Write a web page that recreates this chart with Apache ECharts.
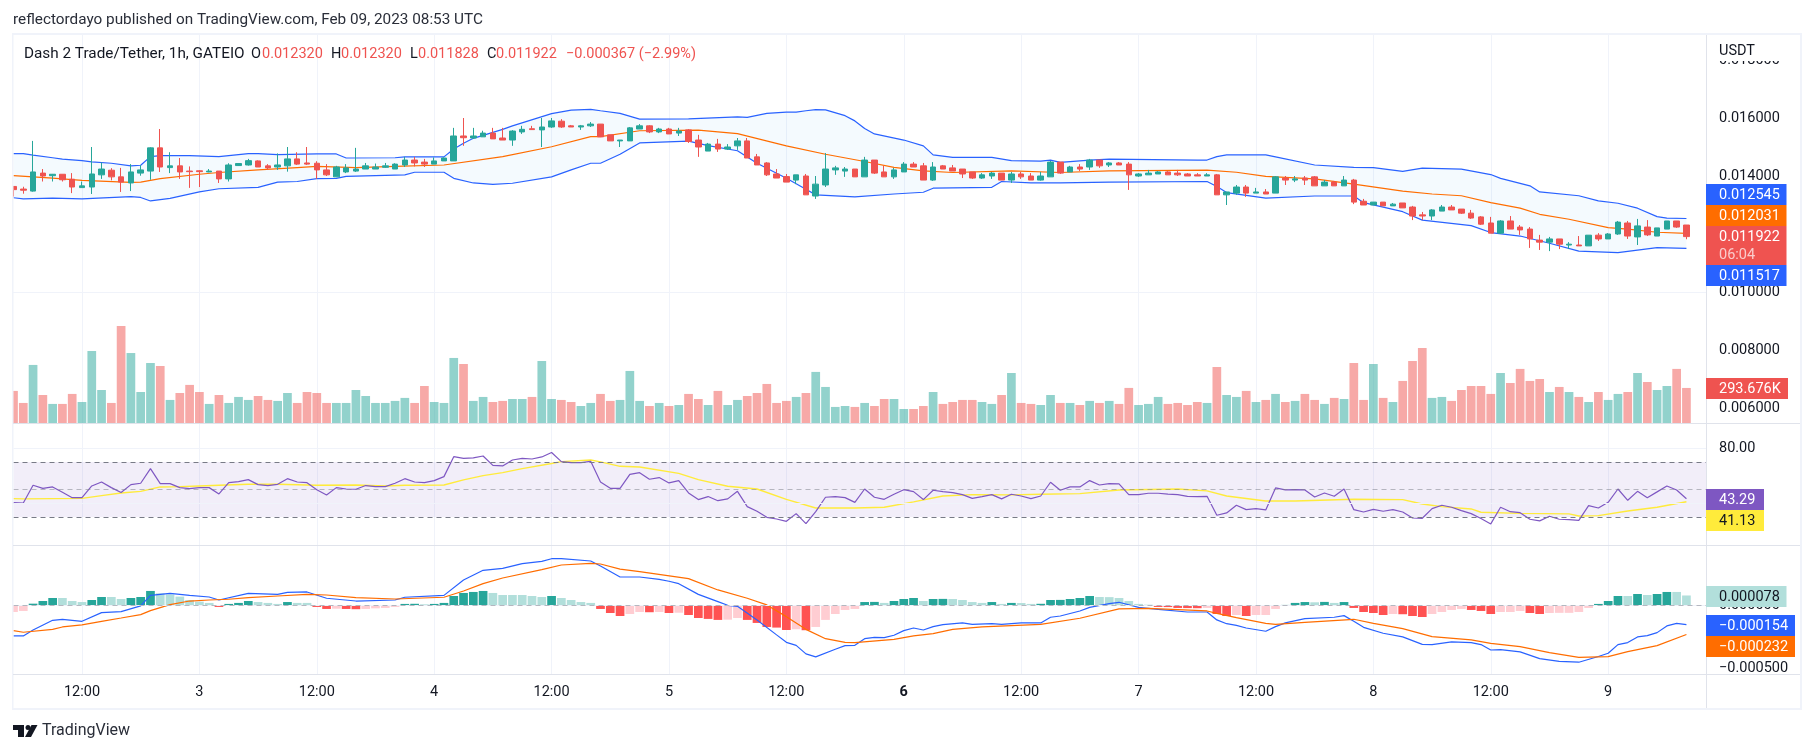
<!DOCTYPE html>
<html>
<head>
<meta charset="utf-8">
<title>Dash 2 Trade/Tether</title>
<script src="https://cdn.jsdelivr.net/npm/echarts@6/dist/echarts.min.js"></script>
<style>
  html, body { margin: 0; padding: 0; background: #fff; }
  #main { width: 1814px; height: 753px; }
</style>
</head>
<body>
<div id="main"></div>
<script>
// hourly bars, index 0 = Feb 2 05:00, last = Feb 9 08:00
const tickIndex = [7, 19, 31, 43, 55, 67, 79, 91, 103, 115, 127, 139, 151, 163];
const tickLabels = ["12:00", "3", "12:00", "4", "12:00", "5", "12:00", "6", "12:00", "7", "12:00", "8", "12:00", "9"];

const opens = [0.01365,0.01356,0.01349,0.01411,0.01402,0.01407,0.0139,0.01361,0.01363,0.01405,
  0.01421,0.01398,0.01377,0.01411,0.01418,0.01498,0.0143,0.01436,0.01418,0.01419,
  0.01415,0.01418,0.01391,0.01437,0.01439,0.01453,0.01436,0.01432,0.01436,0.0146,
  0.01446,0.01445,0.01422,0.01398,0.01415,0.01418,0.01425,0.01425,0.01431,0.01425,
  0.01439,0.01456,0.01449,0.01442,0.01453,0.01453,0.01539,0.01532,0.01536,0.01549,
  0.01532,0.01525,0.01553,0.01564,0.0156,0.0157,0.0159,0.01574,0.0157,0.01574,
  0.0158,0.01543,0.01522,0.01522,0.01563,0.01574,0.01553,0.01563,0.01549,0.0156,
  0.01525,0.01487,0.01511,0.01494,0.01505,0.01522,0.01467,0.01446,0.01408,0.01399,
  0.01387,0.01401,0.01332,0.0137,0.01422,0.01418,0.01425,0.01398,0.01456,0.01415,
  0.01398,0.01415,0.01442,0.01436,0.01387,0.01436,0.01429,0.01425,0.01415,0.01394,
  0.01401,0.01411,0.01387,0.01408,0.01401,0.01387,0.01398,0.01449,0.01415,0.01432,
  0.01432,0.01456,0.01439,0.01446,0.01442,0.01401,0.01405,0.01408,0.01415,0.01411,
  0.01408,0.01405,0.01401,0.01405,0.01336,0.01342,0.01363,0.01342,0.01346,0.01342,
  0.01394,0.01387,0.01394,0.01398,0.01367,0.0138,0.01367,0.01387,0.01314,0.01301,
  0.01311,0.01298,0.01308,0.01294,0.01267,0.01263,0.0128,0.01294,0.01287,0.01273,
  0.0126,0.01239,0.01204,0.01246,0.01225,0.01218,0.0118,0.01173,0.01184,0.01163,
  0.01163,0.0116,0.01197,0.01184,0.01201,0.01239,0.01191,0.01225,0.01194,0.01218,
  0.01246,0.01232];
const highs = [0.01365,0.01364,0.01522,0.01425,0.01408,0.01407,0.01411,0.01382,0.01501,0.01448,
  0.01428,0.01429,0.01442,0.01438,0.015,0.01563,0.01483,0.01463,0.01434,0.01421,
  0.01425,0.01418,0.01445,0.01445,0.0146,0.01455,0.01442,0.01479,0.01501,0.01483,
  0.01501,0.01452,0.01442,0.01436,0.01442,0.01498,0.01446,0.01444,0.01446,0.01445,
  0.01467,0.01467,0.0146,0.01465,0.01465,0.01567,0.01601,0.01567,0.01557,0.01567,
  0.01567,0.01559,0.01574,0.01574,0.01601,0.01601,0.01597,0.01577,0.01577,0.01587,
  0.0158,0.01543,0.01525,0.0157,0.0158,0.01576,0.01567,0.01567,0.01567,0.01563,
  0.01543,0.01515,0.01529,0.01511,0.01532,0.01532,0.01477,0.01449,0.01425,0.01408,
  0.01405,0.01408,0.01401,0.0148,0.01436,0.01432,0.01425,0.01467,0.01456,0.01436,
  0.01429,0.01449,0.01449,0.01446,0.01449,0.01439,0.01439,0.01425,0.01415,0.01411,
  0.01415,0.01411,0.01415,0.01415,0.01411,0.01415,0.01453,0.01449,0.01436,0.01442,
  0.0146,0.01456,0.01449,0.01449,0.01449,0.01411,0.01422,0.01418,0.01418,0.01422,
  0.01411,0.01411,0.01411,0.01408,0.01346,0.0137,0.0137,0.0136,0.01356,0.01401,
  0.01401,0.01401,0.01401,0.01401,0.01387,0.01384,0.01401,0.01391,0.01322,0.01311,
  0.01311,0.01308,0.01308,0.01298,0.01277,0.01287,0.01301,0.01301,0.01287,0.01284,
  0.01263,0.0126,0.01249,0.01263,0.01232,0.01225,0.01198,0.01191,0.01184,0.01173,
  0.01194,0.01197,0.01204,0.01204,0.01246,0.01246,0.01253,0.01249,0.01222,0.01246,
  0.01246,0.01232];
const lows = [0.0133,0.0134,0.01347,0.01382,0.01382,0.01382,0.01342,0.01361,0.01339,0.01391,
  0.01386,0.01346,0.01349,0.01402,0.01388,0.01415,0.01411,0.01391,0.0136,0.01363,
  0.01414,0.01377,0.01382,0.01436,0.01437,0.01432,0.01422,0.01422,0.01416,0.01439,
  0.01439,0.01391,0.01401,0.01398,0.01411,0.01415,0.01425,0.01425,0.01429,0.01425,
  0.01432,0.01434,0.01432,0.01442,0.01453,0.01453,0.01505,0.01529,0.01536,0.01529,
  0.01525,0.01505,0.01546,0.01561,0.01501,0.01567,0.01567,0.0157,0.0156,0.0157,
  0.01536,0.01522,0.01501,0.01522,0.01563,0.01549,0.01549,0.01546,0.01539,0.01515,
  0.01467,0.01487,0.01484,0.01491,0.01491,0.01463,0.01439,0.01401,0.01394,0.0138,
  0.01373,0.01336,0.01322,0.01363,0.01405,0.01398,0.01398,0.01398,0.01408,0.01398,
  0.01391,0.01415,0.01432,0.01387,0.01384,0.01425,0.01418,0.01394,0.01391,0.01391,
  0.01391,0.01387,0.01377,0.01391,0.01387,0.01385,0.01398,0.01408,0.01415,0.01418,
  0.01422,0.01429,0.01432,0.01439,0.01353,0.01398,0.01405,0.01408,0.01405,0.01401,
  0.01401,0.01401,0.01401,0.01336,0.01301,0.01336,0.01329,0.01342,0.01339,0.01342,
  0.0137,0.0138,0.0137,0.01367,0.01367,0.01367,0.01367,0.01304,0.01301,0.01301,
  0.01298,0.01298,0.01291,0.01249,0.01249,0.01249,0.0128,0.01284,0.0127,0.01253,
  0.01232,0.01204,0.01201,0.01218,0.01198,0.01153,0.01146,0.01142,0.01149,0.01149,
  0.0116,0.0116,0.01177,0.01184,0.01198,0.01184,0.01163,0.01194,0.01194,0.01218,
  0.01222,0.01183];
const closes = [0.01354,0.01352,0.01415,0.01401,0.01407,0.01388,0.01363,0.01367,0.01408,0.01425,
  0.01398,0.0138,0.01415,0.01422,0.01498,0.01432,0.01436,0.01415,0.01416,0.01416,
  0.01418,0.01391,0.01439,0.01444,0.01454,0.01432,0.01429,0.01439,0.0146,0.01442,
  0.01442,0.01422,0.01405,0.01432,0.01429,0.01425,0.01436,0.01432,0.01436,0.01442,
  0.01456,0.01446,0.01442,0.01453,0.01463,0.01539,0.01533,0.01539,0.01549,0.01529,
  0.01525,0.01556,0.01562,0.01561,0.0157,0.01591,0.0157,0.0157,0.01574,0.0158,
  0.01536,0.01522,0.01525,0.01567,0.01574,0.01553,0.01563,0.01546,0.01556,0.0152,
  0.01501,0.01511,0.01494,0.01501,0.01522,0.01463,0.01439,0.01405,0.01394,0.0138,
  0.01405,0.01336,0.01373,0.01425,0.01429,0.01425,0.01398,0.01456,0.01411,0.01398,
  0.01422,0.01442,0.01432,0.01387,0.01432,0.01425,0.01418,0.01408,0.01394,0.01405,
  0.01411,0.01387,0.01408,0.01398,0.01387,0.01401,0.01449,0.01411,0.01432,0.01425,
  0.01456,0.01436,0.01446,0.01439,0.01405,0.01408,0.01411,0.01415,0.01405,0.01405,
  0.01401,0.01401,0.01405,0.01336,0.01346,0.01363,0.01342,0.01346,0.01339,0.01398,
  0.01387,0.01391,0.01387,0.01367,0.0138,0.01367,0.01387,0.01311,0.01301,0.01311,
  0.01298,0.01304,0.01291,0.01263,0.01263,0.01284,0.01294,0.01284,0.01273,0.01256,
  0.01235,0.01204,0.01246,0.01218,0.01215,0.01184,0.01173,0.01184,0.01166,0.01166,
  0.0116,0.01197,0.01184,0.01201,0.01242,0.01194,0.01229,0.01198,0.01222,0.01246,
  0.01225,0.01192];

// thousands
const volumesK = [269,169,485,235,161,161,244,177,601,277,
  169,809,584,260,501,476,194,252,319,260,
  161,235,169,219,194,227,194,186,252,169,
  260,252,169,169,169,277,227,169,169,186,
  211,169,310,177,169,543,493,186,219,177,
  186,202,202,219,518,202,194,177,144,169,
  244,186,194,435,186,144,169,144,152,244,
  202,152,269,152,194,227,252,327,169,186,
  219,252,427,302,136,144,136,169,144,202,
  202,119,119,144,260,161,177,194,194,177,
  161,235,418,169,161,152,235,169,169,152,
  186,169,186,161,294,152,161,219,161,169,
  152,177,169,468,235,219,269,177,194,244,
  177,186,244,194,161,211,202,501,194,493,
  211,177,352,518,626,211,219,186,277,310,
  310,244,418,335,452,352,368,260,302,260,
  219,177,260,194,244,260,418,343,277,310,
  452,293.676];

const rsi = [40.5,40.2,53.1,50.9,51.9,48,44.1,44.1,52.6,55.5,
  51.4,47.8,53.6,54.6,65.2,54.3,54.3,51.4,50.7,51.4,
  51.4,46.8,55,55.8,57.2,53.6,52.9,53.8,57.9,55.5,
  55,49.9,46.1,51.4,50.4,50.2,52.9,52.1,52.1,54.6,
  57.9,55.5,55,56.5,59.4,73.9,72.7,73,74.4,67.6,
  67.2,71.5,72.7,72.2,73.7,76.9,70.3,69.6,69.6,70.5,
  55.5,50.9,50.9,61.1,62.3,57.5,58.7,54.8,56.5,47.5,
  42.7,44.9,41.9,43.2,48.7,37.6,34.2,29.8,28.6,26.9,
  32.5,25.2,33.9,44.4,44.9,44.1,40.7,50.4,44.4,42.9,
  46.6,49.9,48.5,42.7,49.5,48.5,47.8,46.3,43.6,44.9,
  46.3,43.2,46.6,45.3,43.4,45.3,55.3,49.5,51.9,51.9,
  56.5,53.3,54.3,54.1,46.3,46.3,47.3,47.3,46.6,46.3,
  45.1,44.9,45.1,31.3,33,38.6,35.4,36.1,35.2,51.2,
  49.7,49.9,49.7,44.6,47.5,45.1,50.4,35.4,33.7,35.6,
  34.2,35.4,33.7,29.3,29.1,36.1,38.6,37.1,34.7,32.5,
  28.9,25,37.1,33.9,33.2,28.4,27.2,30.6,28.4,28.1,
  27.6,38.3,36.6,40.7,50.4,42.2,48.7,44.1,48.3,52.6,
  49.7,43.29];

// millionths of USDT
const macdHistMicro = [-53,-45,13,34,58,58,34,26,42,66,
  66,50,58,66,114,95,87,69,42,29,
  19,-13,11,19,34,26,19,11,26,19,
  19,-13,-29,-27,-29,-31,-29,-24,-21,-13,
  11,12,8,11,19,74,98,106,114,98,
  82,82,82,74,66,74,58,42,26,19,
  -29,-61,-85,-69,-53,-55,-53,-61,-59,-77,
  -101,-108,-116,-114,-101,-116,-140,-172,-177,-196,
  -190,-198,-172,-116,-69,-37,-29,26,27,19,
  34,50,58,34,50,51,50,42,26,19,
  26,11,19,18,11,12,42,43,50,58,
  74,66,65,58,34,11,5,-13,-14,-21,
  -22,-23,-21,-69,-85,-77,-85,-77,-77,-29,
  3,19,26,24,27,19,26,-21,-53,-61,
  -77,-69,-71,-85,-93,-69,-53,-37,-29,-37,
  -45,-69,-53,-53,-45,-61,-69,-61,-60,-60,
  -53,-21,11,34,74,74,90,82,90,106,
  106,78];

// [bar index, value] read at the bends of each smooth line
const bbUpper = [[0,0.01478],[1,0.01478],[2,0.01473],[4,0.01464],[5,0.01459],[7,0.01454],[8,0.0145],[10,0.01445],[12,0.01436],[13,0.01438],
  [14,0.01468],[15,0.01471],[18,0.01471],[21,0.01468],[24,0.01478],[25,0.01478],[27,0.01475],[31,0.01477],[33,0.01477],[34,0.01463],
  [39,0.01464],[40,0.01467],[44,0.01467],[45,0.01494],[46,0.01514],[47,0.01531],[50,0.01562],[51,0.01574],[55,0.01616],[57,0.01628],
  [59,0.01631],[60,0.01626],[62,0.01617],[64,0.01597],[69,0.01598],[74,0.01605],[75,0.01603],[77,0.01617],[79,0.01621],[80,0.01621],
  [81,0.01626],[82,0.0163],[83,0.01629],[85,0.01609],[86,0.01591],[87,0.01565],[88,0.01546],[91,0.01525],[93,0.01505],[94,0.01474],
  [96,0.01465],[100,0.01465],[102,0.01454],[105,0.01452],[106,0.01456],[107,0.01448],[110,0.01456],[112,0.01459],[121,0.01456],[122,0.01456],
  [123,0.01468],[124,0.01474],[128,0.01474],[129,0.01467],[133,0.01439],[137,0.01431],[139,0.0143],[142,0.01417],[144,0.01428],[148,0.01425],
  [151,0.01406],[152,0.01393],[155,0.01367],[156,0.01346],[160,0.01333],[162,0.01315],[164,0.01307],[166,0.0129],[168,0.01261],[169,0.01256],
  [171,0.012545]];
const bbBasis = [[0,0.01402],[4,0.01394],[7,0.01386],[12,0.01379],[13,0.0138],[15,0.01392],[19,0.01407],[21,0.01413],[25,0.01422],[29,0.0143],
  [31,0.01434],[35,0.0143],[39,0.01434],[44,0.01439],[50,0.01468],[55,0.01502],[59,0.01537],[60,0.01537],[64,0.01557],[70,0.01559],
  [74,0.01547],[79,0.01505],[83,0.01476],[87,0.01451],[90,0.01431],[93,0.01419],[96,0.01413],[102,0.01419],[107,0.01413],[112,0.01419],
  [122,0.01421],[125,0.01414],[128,0.014],[133,0.01391],[137,0.01373],[142,0.01349],[145,0.01339],[148,0.01333],[151,0.01309],[154,0.0129],
  [156,0.01269],[159,0.01252],[163,0.01223],[165,0.01218],[168,0.01207],[171,0.012031]];
const bbLower = [[0,0.01326],[1,0.01322],[4,0.01325],[7,0.01322],[12,0.0133],[13,0.01327],[14,0.01315],[16,0.01324],[19,0.01346],[21,0.01357],
  [25,0.01362],[27,0.0138],[29,0.01382],[31,0.01392],[33,0.01393],[34,0.014],[40,0.01405],[41,0.01414],[44,0.01414],[45,0.01393],
  [47,0.01377],[49,0.01372],[51,0.01376],[55,0.01398],[57,0.01422],[59,0.01445],[60,0.01445],[62,0.01476],[64,0.01515],[69,0.01521],
  [71,0.01506],[74,0.01488],[76,0.01445],[79,0.01393],[81,0.01355],[82,0.01336],[86,0.01329],[90,0.01339],[93,0.01345],[94,0.01359],
  [100,0.01362],[101,0.01382],[104,0.01377],[107,0.01377],[112,0.0138],[122,0.01382],[123,0.01365],[124,0.01344],[128,0.01325],[133,0.01332],
  [137,0.01332],[138,0.01309],[142,0.01278],[144,0.01249],[149,0.0123],[151,0.01206],[154,0.01194],[157,0.01169],[160,0.01142],[164,0.01137],
  [168,0.01154],[171,0.011517]];

const rsiMa = [[0,43.4],[1,43.2],[7,43.6],[9,45.6],[11,47.5],[13,48.7],[15,51.9],[17,52.1],[19,52.6],[21,53.1],
  [24,53.8],[27,53.8],[31,53.1],[35,53.3],[38,52.6],[40,53.1],[44,53.3],[46,57],[48,60.1],[50,62.3],
  [52,65.2],[55,68.9],[56,70.3],[59,71.5],[60,70.1],[62,66.9],[64,66.4],[68,61.8],[70,57.2],[73,52.4],
  [76,50.4],[79,42.9],[82,36.6],[86,36.6],[89,37.1],[92,41],[95,45.3],[98,46.3],[102,46.1],[105,46.6],
  [109,47],[113,49.7],[119,50.4],[122,49],[124,45.3],[128,41.7],[131,41.7],[137,42.9],[142,42.7],[144,39.5],
  [146,37.6],[149,35.9],[150,33.5],[154,32.7],[159,32.3],[160,30.8],[162,31],[165,34.4],[168,37.1],[171,41.13]];

const macdLine = [[0,-0.000243],[1,-0.000243],[2,-0.000196],[4,-0.000119],[5,-0.000111],[7,-0.000127],[9,-0.000058],[11,-0.00005],[13,-0.000005],[14,0.000079],
  [16,0.000095],[18,0.000079],[20,0.000066],[21,0.000042],[24,0.000095],[27,0.000087],[28,0.000103],[30,0.000106],[32,0.000056],[35,0.000034],
  [39,0.000042],[40,0.000064],[44,0.000079],[46,0.000201],[48,0.000278],[50,0.000294],[52,0.000331],[54,0.000349],[55,0.00037],[56,0.00037],
  [59,0.000352],[60,0.000312],[62,0.000225],[64,0.000225],[66,0.000206],[67,0.000191],[68,0.000172],[70,0.000087],[72,0.000029],[73,0],
  [74,-0.000008],[76,-0.000116],[78,-0.000235],[79,-0.000294],[80,-0.000318],[81,-0.000386],[82,-0.00041],[84,-0.000349],[85,-0.00032],[86,-0.000318],
  [87,-0.000265],[88,-0.000254],[89,-0.000257],[90,-0.000238],[91,-0.000201],[92,-0.00018],[93,-0.000196],[94,-0.000169],[95,-0.000153],[97,-0.00014],
  [98,-0.000151],[100,-0.000146],[101,-0.000151],[103,-0.00014],[105,-0.00014],[106,-0.000095],[107,-0.000085],[109,-0.000045],[110,-0.000016],[112,0.000013],
  [113,0.000024],[115,-0.000016],[117,-0.000032],[120,-0.000053],[122,-0.000053],[123,-0.000116],[124,-0.000146],[125,-0.000159],[126,-0.00018],[128,-0.000206],
  [129,-0.000169],[130,-0.00014],[132,-0.000106],[135,-0.000095],[136,-0.000082],[137,-0.000127],[138,-0.000175],[140,-0.000222],[142,-0.000251],[144,-0.00031],
  [145,-0.000312],[147,-0.000291],[149,-0.000296],[150,-0.000312],[151,-0.000355],[152,-0.000352],[154,-0.00037],[156,-0.000423],[158,-0.000445],[160,-0.000452],
  [162,-0.000407],[163,-0.000381],[164,-0.000312],[165,-0.000296],[166,-0.000251],[167,-0.000241],[168,-0.000217],[169,-0.000164],[170,-0.000143],[171,-0.000154]];
const macdSignal = [[0,-0.000201],[1,-0.000214],[4,-0.000191],[5,-0.000172],[7,-0.000156],[9,-0.000127],[11,-0.000101],[13,-0.000074],[14,-0.000042],[16,0.000005],
  [18,0.000034],[20,0.000042],[22,0.000048],[24,0.000061],[27,0.000074],[30,0.000087],[32,0.000082],[35,0.000061],[39,0.00005],[44,0.000064],
  [46,0.000114],[48,0.000172],[50,0.000217],[54,0.000283],[56,0.00032],[59,0.000333],[60,0.000328],[62,0.000288],[64,0.000267],[69,0.000212],
  [72,0.000122],[75,0.000056],[77,0.000003],[79,-0.00009],[81,-0.000191],[83,-0.000265],[85,-0.000294],[86,-0.000296],[90,-0.00027],[92,-0.000243],
  [94,-0.000225],[96,-0.000191],[99,-0.000172],[105,-0.000151],[109,-0.000103],[113,-0.000029],[116,-0.000024],[122,-0.000045],[123,-0.000064],[125,-0.000098],
  [128,-0.000143],[129,-0.000151],[132,-0.000135],[137,-0.000111],[139,-0.000143],[142,-0.000185],[145,-0.000249],[149,-0.000275],[151,-0.000302],[154,-0.000328],
  [157,-0.000376],[160,-0.000413],[163,-0.000407],[165,-0.000368],[168,-0.00032],[171,-0.000232]];

const priceTicks = [0.018, 0.016, 0.014, 0.012, 0.01, 0.008, 0.006];
const rsiTicks = [80, 40];
const macdTicks = [0, -0.0005];

const FONT = 'Roboto, "Liberation Sans", sans-serif';
const FSIZE = 14.5;
const TITLE_SIZE = 15.3;
const TEXT = "#131722";
const UP = "#26a69a";
const DOWN = "#ef5350";
const GRIDLINE = "#f0f3fa";
const BORDER = "#e0e3eb";

const categories = Array.from({ length: 174 }, (_, i) => String(i));
const labelAt = {};
tickIndex.forEach((idx, k) => { labelAt[idx] = tickLabels[k]; });
const isTick = (i) => labelAt[i] !== undefined;

const histColors = macdHistMicro.map((v, i) => {
  const prev = i > 0 ? macdHistMicro[i - 1] : v;
  if (v >= 0) return v > prev ? UP : "#b2dfdb";
  return v < prev ? "#ff5252" : "#ffcdd2";
});

function xAxis(gridIndex, showLabels) {
  return {
    type: "category",
    gridIndex,
    data: categories,
    boundaryGap: false,
    axisLine: { show: false },
    axisTick: { show: false },
    splitLine: { show: true, interval: (i) => isTick(i), lineStyle: { color: GRIDLINE, width: 1 } },
    axisLabel: {
      show: showLabels,
      interval: (i) => isTick(i),
      margin: 11,
      color: TEXT,
      fontFamily: FONT,
      fontSize: FSIZE,
      formatter: (value, index) => (labelAt[index] === "6" ? "{b|6}" : labelAt[index]),
      rich: { b: { fontWeight: "bold", color: TEXT, fontFamily: FONT, fontSize: FSIZE } },
    },
  };
}

function yAxis(gridIndex, min, max, ticks, fmt) {
  return {
    type: "value",
    gridIndex,
    position: "right",
    min,
    max,
    axisLine: { show: false },
    axisTick: { show: false },
    splitLine: { show: false },
    axisLabel: {
      customValues: ticks,
      margin: 13,
      padding: [2, 0, 0, 0],
      color: TEXT,
      fontFamily: FONT,
      fontSize: FSIZE,
      formatter: fmt,
    },
  };
}

function flatLines(values, color, type) {
  return values.map((v) => ({ yAxis: v, lineStyle: { color, type, width: 1 } }));
}

function lineSeries(name, data, color, gridIndex, yIndex, width, z) {
  return {
    name,
    type: "line",
    xAxisIndex: gridIndex,
    yAxisIndex: yIndex,
    data,
    symbol: "none",
    silent: true,
    z,
    lineStyle: { color, width },
  };
}

const option = {
  animation: false,
  backgroundColor: "#fff",
  grid: [
    { left: 13.5, top: 35, width: 1692.5, height: 388.3 },
    { left: 13.5, top: 423.3, width: 1692.5, height: 121.7 },
    { left: 13.5, top: 545, width: 1692.5, height: 129.3 },
  ],
  xAxis: [xAxis(0, false), xAxis(1, false), xAxis(2, true)],
  yAxis: [
    yAxis(0, 0.005483, 0.018872, priceTicks, (v) => v.toFixed(6)),
    { type: "value", gridIndex: 0, min: 0, max: 3227, show: false },
    yAxis(1, 9.67, 98.18, rsiTicks, (v) => v.toFixed(2)),
    yAxis(2, -0.000548, 0.000479, macdTicks, (v) => v.toFixed(6).replace("-", "\u2212")),
  ],
  series: [
    {
      // Bollinger band fill, also carries the price grid lines
      type: "custom",
      xAxisIndex: 0,
      yAxisIndex: 0,
      data: [[0, 0.014]],
      silent: true,
      z: 1,
      clip: true,
      renderItem: (params, api) => {
        const top = bbUpper.map((p) => api.coord(p));
        const bottom = bbLower.map((p) => api.coord(p)).reverse();
        return {
          type: "polygon",
          shape: { points: top.concat(bottom) },
          style: { fill: "rgba(33,150,243,0.05)" },
        };
      },
      markLine: {
        silent: true,
        symbol: "none",
        label: { show: false },
        animation: false,
        data: flatLines(priceTicks, GRIDLINE, "solid"),
      },
    },
    {
      type: "bar",
      xAxisIndex: 0,
      yAxisIndex: 1,
      barWidth: 8.7,
      silent: true,
      z: 2,
      data: volumesK.map((v, i) => ({
        value: v,
        itemStyle: { color: closes[i] >= opens[i] ? "rgba(38,166,154,0.5)" : "rgba(239,83,80,0.5)" },
      })),
    },
    lineSeries("upper", bbUpper, "#2962ff", 0, 0, 1.2, 3),
    lineSeries("lower", bbLower, "#2962ff", 0, 0, 1.2, 3),
    lineSeries("basis", bbBasis, "#ff6d00", 0, 0, 1.2, 3),
    {
      type: "candlestick",
      xAxisIndex: 0,
      yAxisIndex: 0,
      barWidth: 6,
      silent: true,
      z: 4,
      itemStyle: { color: UP, color0: DOWN, borderColor: UP, borderColor0: DOWN, borderWidth: 1 },
      data: opens.map((o, i) => [o, closes[i], lows[i], highs[i]]),
    },
    {
      name: "rsi",
      type: "line",
      xAxisIndex: 1,
      yAxisIndex: 2,
      data: rsi,
      symbol: "none",
      silent: true,
      z: 4,
      lineStyle: { color: "#7e57c2", width: 1.2 },
      markArea: {
        silent: true,
        itemStyle: { color: "rgba(126,87,194,0.1)" },
        data: [[{ yAxis: 70 }, { yAxis: 30 }]],
      },
      markLine: {
        silent: true,
        symbol: "none",
        label: { show: false },
        animation: false,
        data: flatLines(rsiTicks, GRIDLINE, "solid")
          .concat(flatLines([70, 30], "#787b86", [5, 4]))
          .concat(flatLines([50], "rgba(120,123,134,0.5)", [5, 4])),
      },
    },
    lineSeries("rsiMa", rsiMa, "#ffeb3b", 1, 2, 1.4, 3),
    {
      type: "bar",
      xAxisIndex: 2,
      yAxisIndex: 3,
      barWidth: 8.7,
      silent: true,
      z: 2,
      data: macdHistMicro.map((v, i) => ({ value: v / 1e6, itemStyle: { color: histColors[i] } })),
      markLine: {
        silent: true,
        symbol: "none",
        label: { show: false },
        animation: false,
        data: flatLines([-0.0005], GRIDLINE, "solid").concat(flatLines([0], "rgba(120,123,134,0.5)", [5, 4])),
      },
    },
    lineSeries("signal", macdSignal, "#ff6d00", 2, 3, 1.2, 4),
    lineSeries("macd", macdLine, "#2962ff", 2, 3, 1.2, 3),
  ],
};

function label(x, y, text, fill, size, weight) {
  return {
    type: "text",
    x,
    y,
    z: 102,
    silent: true,
    style: { text, fill, font: `${weight || "normal"} ${size || FSIZE}px ${FONT}`, verticalAlign: "middle", align: "left" },
  };
}
function box(x, y, w, h, fill, z) {
  return { type: "rect", z: z || 100, silent: true, shape: { x, y, width: w, height: h }, style: { fill } };
}
function tag(y, h, w, fill, text, textFill) {
  return [box(1706, y, w, h, fill, 101), label(1719, y + 11, text, textFill)];
}

const RED = "#ef5350";
const elements = [
  // white cover over the clipped top price label, then frame and pane separators
  box(1707, 35, 93, 26, "#fff", 99),
  box(0, 0, 12, 753, "#fff", 98),
  box(12, 33, 1790, 2, GRIDLINE),
  box(12, 708, 1790, 2, GRIDLINE),
  box(12, 33, 1.5, 677, GRIDLINE),
  box(1800, 33, 2, 677, GRIDLINE),
  box(13, 423, 1787, 1, BORDER),
  box(13, 545, 1787, 1, BORDER),
  box(13, 674, 1787, 1, BORDER),
  box(1706, 35, 1, 673, BORDER),

  label(13, 20, "reflectordayo published on TradingView.com, Feb 09, 2023 08:53 UTC", "#2a2e39", TITLE_SIZE),
  label(24, 54, "Dash 2 Trade/Tether, 1h, GATEIO", TEXT, TITLE_SIZE),
  label(251, 54, "O", TEXT),
  label(262, 54, "0.012320", RED),
  label(331, 54, "H", TEXT),
  label(341, 54, "0.012320", RED),
  label(410, 54, "L", TEXT),
  label(418, 54, "0.011828", RED),
  label(487, 54, "C", TEXT),
  label(496, 54, "0.011922", RED),
  label(566, 54, "\u22120.000367 (\u22122.99%)", RED),
  label(1719, 51, "USDT", TEXT),

  ...tag(184, 21, 80.5, "#2962ff", "0.012545", "#fff"),
  ...tag(205, 21, 80.5, "#ff6d00", "0.012031", "#fff"),
  ...tag(226, 39, 80.5, DOWN, "0.011922", "#fff"),
  label(1719, 255, "06:04", "rgba(255,255,255,0.7)"),
  ...tag(265, 21, 80.5, "#2962ff", "0.011517", "#fff"),
  ...tag(378, 21, 82, DOWN, "293.676K", "#fff"),
  ...tag(489, 21, 58, "#7e57c2", "43.29", "#fff"),
  ...tag(510, 21, 58, "#ffeb3b", "41.13", TEXT),
  ...tag(586, 21, 80.5, "#b2dfdb", "0.000078", TEXT),
  ...tag(615, 21, 89, "#2962ff", "\u22120.000154", "#fff"),
  ...tag(636, 21, 89, "#ff6d00", "\u22120.000232", "#fff"),

  // TradingView mark
  box(13, 725, 11, 5, "#131722"),
  box(18, 725, 6, 12, "#131722"),
  { type: "circle", z: 100, silent: true, shape: { cx: 28, cy: 727.5, r: 2.5 }, style: { fill: "#131722" } },
  { type: "polygon", z: 100, silent: true, shape: { points: [[31.5, 725], [37.5, 725], [31, 737], [25, 737]] }, style: { fill: "#131722" } },
  label(42, 731, "TradingView", "#2a2e39", 16),
];
option.graphic = { elements };

var myChart = echarts.init(document.getElementById("main"), null, { renderer: "canvas" });
myChart.setOption(option);
</script>
</body>
</html>
